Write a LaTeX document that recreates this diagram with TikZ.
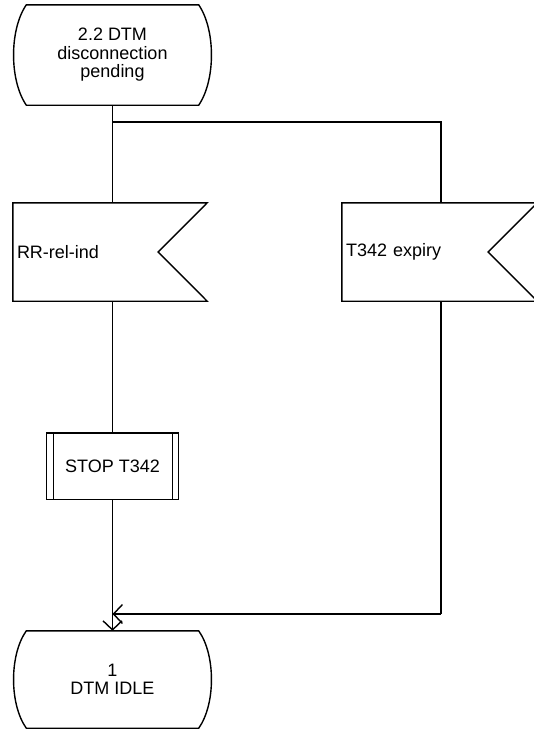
\documentclass[tikz,border=0pt]{standalone}
\usepackage{fontspec}
\setmainfont{Liberation Sans}
\usetikzlibrary{arrows.meta,calc}
\begin{document}
\begin{tikzpicture}[x=1pt,y=-1pt,
  every node/.style={font=\fontsize{18}{18.5}\selectfont, inner sep=0pt},
  ln/.style={line width=1.4pt, line join=miter},
  box/.style={draw=none, minimum width=#1},
  arr/.style={ln, -{Straight Barb[length=9pt,width=19pt,line width=1.4pt]}}
]
\useasboundingbox (0,0) rectangle (533,731);
% start state
\node[box=172pt, minimum height=100pt, align=center] (s1) at (112.5,55) {2.2 DTM\\disconnection\\pending};
\draw[ln] (s1.north west) -- (s1.north east)
  .. controls ($(s1.north east)+(17,25)$) and ($(s1.south east)+(17,-25)$) .. (s1.south east)
  -- (s1.south west)
  .. controls ($(s1.south west)+(-17,-25)$) and ($(s1.north west)+(-17,25)$) .. (s1.north west) -- cycle;
% input RR-rel-ind
\node[box=194pt, minimum height=98pt, text width=186pt, inner xsep=4pt, align=left] (rr) at (110,252) {RR-rel-ind};
\draw[ln] (rr.north west) -- (rr.north east) -- ([xshift=-49pt]rr.east) -- (rr.south east) -- (rr.south west) -- cycle;
% input T342 expiry
\node[box=195pt, minimum height=98pt, text width=187pt, inner xsep=4pt, align=left] (t) at (439.5,252) {T342 expiry};
\draw[ln] (t.north west) -- (t.north east) -- ([xshift=-49pt]t.east) -- (t.south east) -- (t.south west) -- cycle;
% task STOP T342
\node[box=132pt, minimum height=66pt, align=center] (stop) at (112.5,466) {STOP T342};
\draw[ln] (stop.north west) rectangle (stop.south east);
\draw[ln] ([xshift=7pt]stop.north west) -- ([xshift=7pt]stop.south west);
\draw[ln] ([xshift=-6.5pt]stop.north east) -- ([xshift=-6.5pt]stop.south east);
% end state
\node[box=172pt, minimum height=97pt, align=center] (idle) at (112.5,679.5) {1\\DTM IDLE};
\draw[ln] (idle.north west) -- (idle.north east)
  .. controls ($(idle.north east)+(17,24)$) and ($(idle.south east)+(17,-24)$) .. (idle.south east)
  -- (idle.south west)
  .. controls ($(idle.south west)+(-17,-24)$) and ($(idle.north west)+(-17,24)$) .. (idle.north west) -- cycle;
% connectors
\coordinate (br) at (441,122);
\coordinate (rc) at (441,614);
\draw[ln] (s1.south) -- (s1.south |- rr.north);
\draw[ln] (s1.south |- br) -- (br) -- (br |- t.north);
\draw[ln] (s1.south |- rr.south) -- (stop.north);
\draw[arr] (stop.south) -- (idle.north);
\draw[ln] (br |- t.south) -- (rc);
\draw[arr] (rc) -- (rc -| idle.north);
\end{tikzpicture}
\end{document}
